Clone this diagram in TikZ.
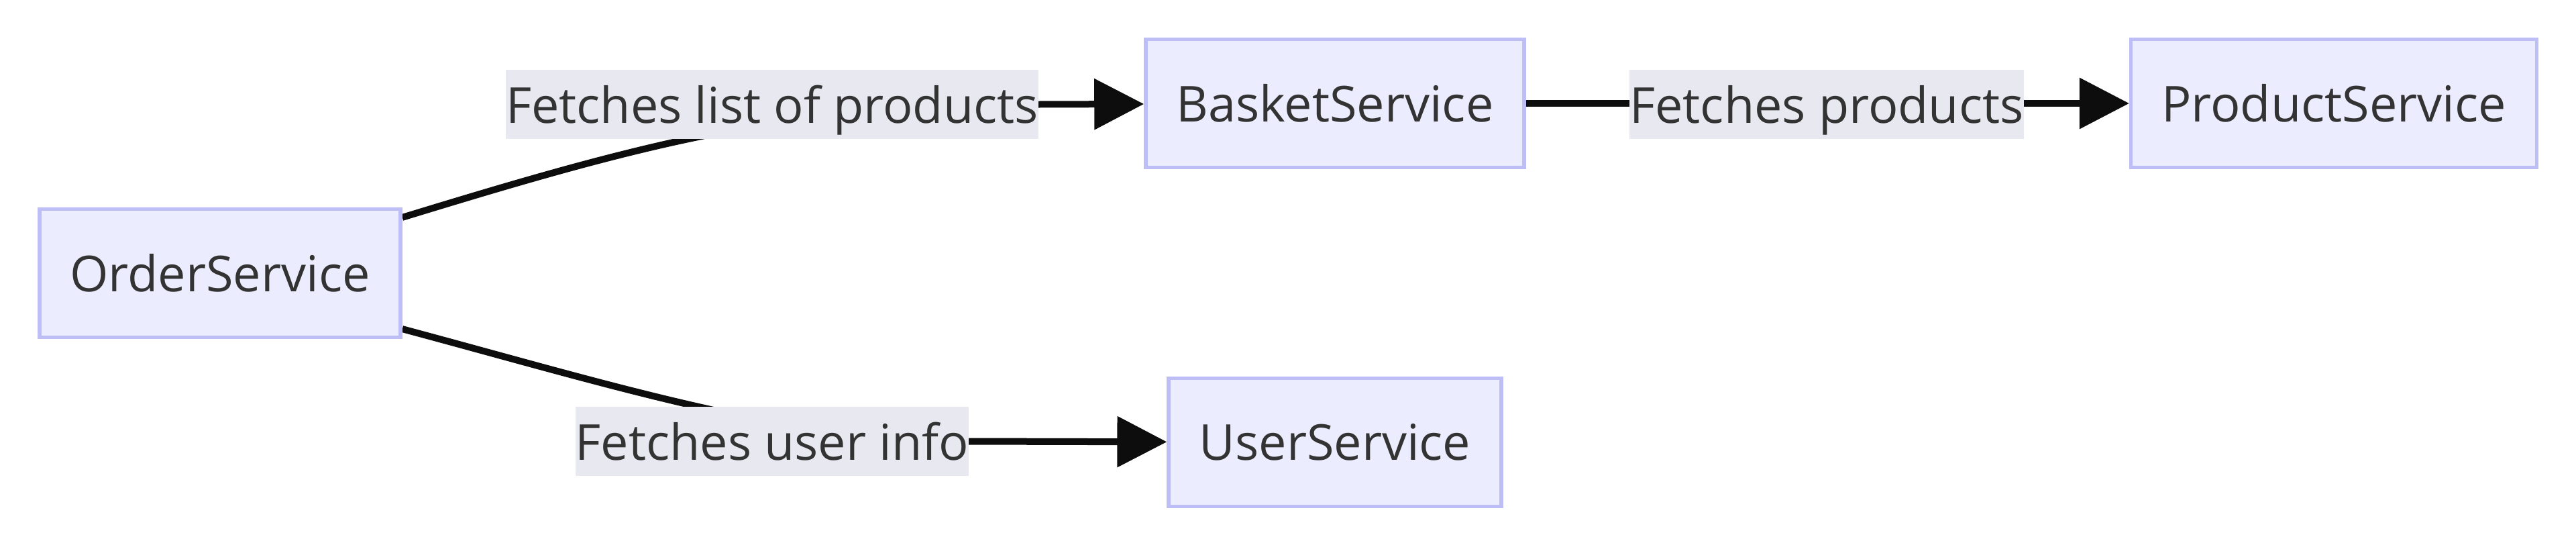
\documentclass[tikz,border=0pt]{standalone}
\usepackage{fontspec}
\setmainfont{Open Sans}
\usetikzlibrary{arrows.meta}

\definecolor{svcfill}{HTML}{ECECFF}
\definecolor{svcline}{HTML}{BEBEF6}
\definecolor{lblfill}{HTML}{E8E8F0}
\definecolor{txt}{HTML}{333333}
\definecolor{wire}{HTML}{0D0D0D}

\pgfdeclarelayer{bg}
\pgfsetlayers{bg,main}

\tikzset{
  svc/.style={draw=svcline, fill=svcfill, line width=0.055cm, text=txt,
    minimum height=1.91cm, inner xsep=0.455cm},
  lbl/.style={fill=lblfill, text=txt, inner sep=0pt, minimum height=1.03cm,
    text height=0.56cm, text depth=0pt},
  flow/.style={draw=wire, line width=0.1cm,
    -{Triangle[length=0.74cm,width=0.74cm]}}
}

\begin{document}
\begin{tikzpicture}
  [font=\fontsize{21pt}{25pt}\selectfont]
  \useasboundingbox (0,0) rectangle (38.4,-8.02);

  \node[svc] (order) at (3.28, -4.07) {OrderService};
  \node[svc] (basket) at (19.90, -1.54) {BasketService};
  \node[svc] (product) at (34.79, -1.54) {ProductService};
  \node[svc] (user) at (19.90, -6.59) {UserService};

  \node[lbl] (lab1) at (11.51, -1.555) {Fetches list of products};
  \node[lbl] (lab2) at (27.23, -1.555) {Fetches products};
  \node[lbl] (lab3) at (11.51, -6.575) {Fetches user info};

  \begin{pgfonlayer}{bg}
    \draw[flow] (order.17) to[out=17, in=180] (lab1.east) -- (basket);
    \draw[flow] (basket) -- (product);
    \draw[flow] (order.-17) to[out=-15, in=180, in looseness=0.8] (lab3.east) -- (user);
  \end{pgfonlayer}

\end{tikzpicture}
\end{document}
